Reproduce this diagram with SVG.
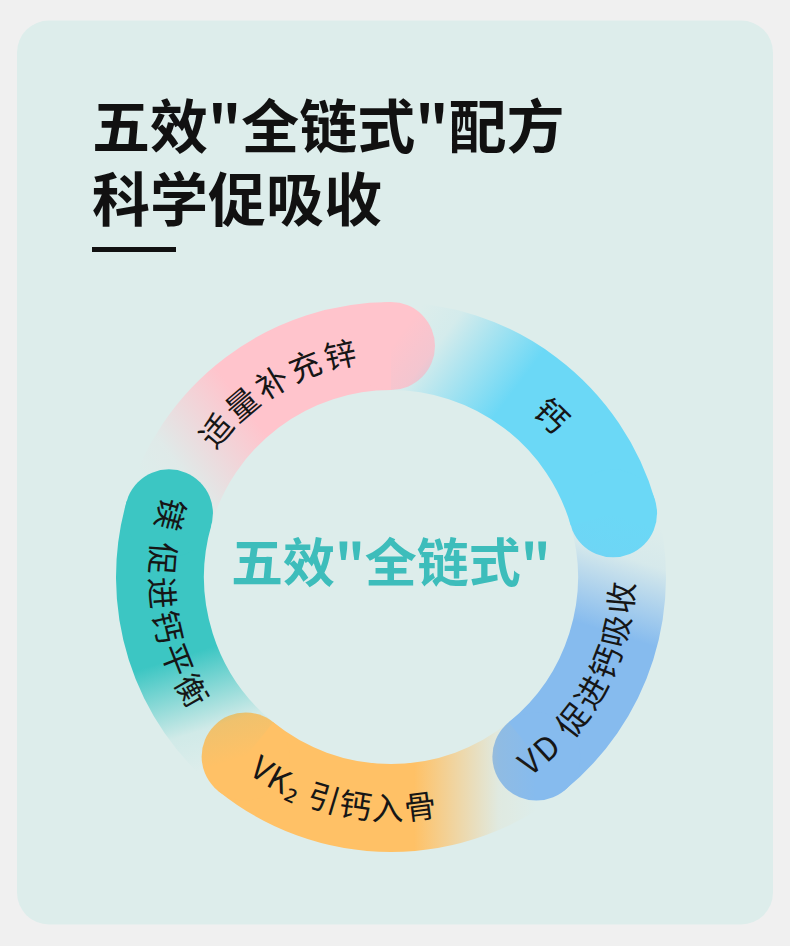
<svg xmlns="http://www.w3.org/2000/svg" width="790" height="946" viewBox="0 0 790 946">
<style>
.title{font-family:"Noto Sans CJK SC","Noto Sans",sans-serif;font-weight:700;font-size:58px;fill:#111;}
.center{font-family:"Noto Sans CJK SC","Noto Sans",sans-serif;font-weight:700;font-size:52px;fill:#3dbdbb;}
.lbl{font-family:"Noto Sans CJK SC","Noto Sans",sans-serif;font-weight:400;font-size:32px;fill:#161616;}
.seg{fill:none;stroke-width:88;stroke-linecap:butt;}
</style>
<defs>
<linearGradient id="gPink" gradientUnits="userSpaceOnUse" x1="168.95" y1="513.33" x2="391" y2="346">
<stop offset="0" stop-color="#ffc4cc" stop-opacity="0"/>
<stop offset="0.13" stop-color="#ffc4cc" stop-opacity="0.08"/>
<stop offset="0.45" stop-color="#ffc4cc" stop-opacity="1"/>
<stop offset="1" stop-color="#ffc4cc" stop-opacity="1"/>
</linearGradient>
<linearGradient id="gBlue" gradientUnits="userSpaceOnUse" x1="391" y1="346" x2="613.05" y2="513.33">
<stop offset="0" stop-color="#6bd8f6" stop-opacity="0"/>
<stop offset="0.13" stop-color="#6bd8f6" stop-opacity="0.08"/>
<stop offset="0.45" stop-color="#6bd8f6" stop-opacity="1"/>
<stop offset="1" stop-color="#6bd8f6" stop-opacity="1"/>
</linearGradient>
<linearGradient id="gVd" gradientUnits="userSpaceOnUse" x1="613.05" y1="513.33" x2="536.37" y2="756.52">
<stop offset="0" stop-color="#86bbee" stop-opacity="0"/>
<stop offset="0.15" stop-color="#86bbee" stop-opacity="0.08"/>
<stop offset="0.45" stop-color="#86bbee" stop-opacity="1"/>
<stop offset="1" stop-color="#86bbee" stop-opacity="1"/>
</linearGradient>
<linearGradient id="gOrange" gradientUnits="userSpaceOnUse" x1="536.37" y1="756.52" x2="245.63" y2="756.52">
<stop offset="0" stop-color="#ffc166" stop-opacity="0"/>
<stop offset="0.13" stop-color="#ffc166" stop-opacity="0.08"/>
<stop offset="0.42" stop-color="#ffc166" stop-opacity="1"/>
<stop offset="1" stop-color="#ffc166" stop-opacity="1"/>
</linearGradient>
<linearGradient id="gTeal" gradientUnits="userSpaceOnUse" x1="245.63" y1="756.52" x2="168.95" y2="513.33">
<stop offset="0" stop-color="#3cc6c3" stop-opacity="0"/>
<stop offset="0.15" stop-color="#3cc6c3" stop-opacity="0.08"/>
<stop offset="0.45" stop-color="#3cc6c3" stop-opacity="1"/>
<stop offset="1" stop-color="#3cc6c3" stop-opacity="1"/>
</linearGradient>
<path id="pPink" d="M175.04,581.15 A216,216 0 0 1 495.39,387.90"/>
<path id="pBlue" d="M334.37,368.56 A216,216 0 0 1 599.83,632.18"/>
<path id="pVd" d="M399.48,819.85 A243,243 0 0 0 597.08,448.23"/>
<path id="pOrange" d="M159.50,650.88 A243,243 0 0 0 570.73,740.54"/>
<path id="pTeal" d="M244.62,385.55 A241,241 0 0 0 298.38,799.49"/>
</defs>
<rect x="0" y="0" width="790" height="946" fill="#f0f0f0"/>
<rect x="17" y="20.5" width="756" height="904" rx="32" fill="#ddedeb"/>
<g id="title">
<text class="title" x="92" y="148">五效"全链式"配方</text>
<text class="title" x="92" y="221">科学促吸收</text>
<rect x="92" y="247" width="84" height="5" fill="#111"/>
</g>
<g id="seg-pink">
<path class="seg" stroke="url(#gPink)" d="M168.95,513.33 A231,231 0 0 1 391,346"/>
<circle cx="391" cy="346" r="44" fill="#ffc4cc"/>
<text class="lbl" letter-spacing="3"><textPath href="#pPink" startOffset="50%" text-anchor="middle">适量补充锌</textPath></text>
</g>
<g id="seg-blue">
<path class="seg" stroke="url(#gBlue)" d="M391,346 A231,231 0 0 1 613.05,513.33"/>
<circle cx="613.05" cy="513.33" r="44" fill="#6bd8f6"/>
<text class="lbl"><textPath href="#pBlue" startOffset="50%" text-anchor="middle">钙</textPath></text>
</g>
<g id="seg-vd">
<path class="seg" stroke="url(#gVd)" d="M613.05,513.33 A231,231 0 0 1 536.37,756.52"/>
<circle cx="536.37" cy="756.52" r="44" fill="#86bbee"/>
<text class="lbl" letter-spacing="3"><textPath href="#pVd" startOffset="50%" text-anchor="middle">VD 促进钙吸收</textPath></text>
</g>
<g id="seg-orange">
<path class="seg" stroke="url(#gOrange)" d="M536.37,756.52 A231,231 0 0 1 245.63,756.52"/>
<circle cx="245.63" cy="756.52" r="44" fill="#ffc166"/>
<text class="lbl" letter-spacing="2"><textPath href="#pOrange" startOffset="50%" text-anchor="middle">VK₂ 引钙入骨</textPath></text>
</g>
<g id="seg-teal">
<path class="seg" stroke="url(#gTeal)" d="M245.63,756.52 A231,231 0 0 1 168.95,513.33"/>
<circle cx="168.95" cy="513.33" r="44" fill="#3cc6c3"/>
<text class="lbl" letter-spacing="4"><textPath href="#pTeal" startOffset="50%" text-anchor="middle">镁 促进钙平衡</textPath></text>
</g>
<g id="center-title">
<text class="center" x="231" y="582">五效"全链式"</text>
</g>
</svg>
